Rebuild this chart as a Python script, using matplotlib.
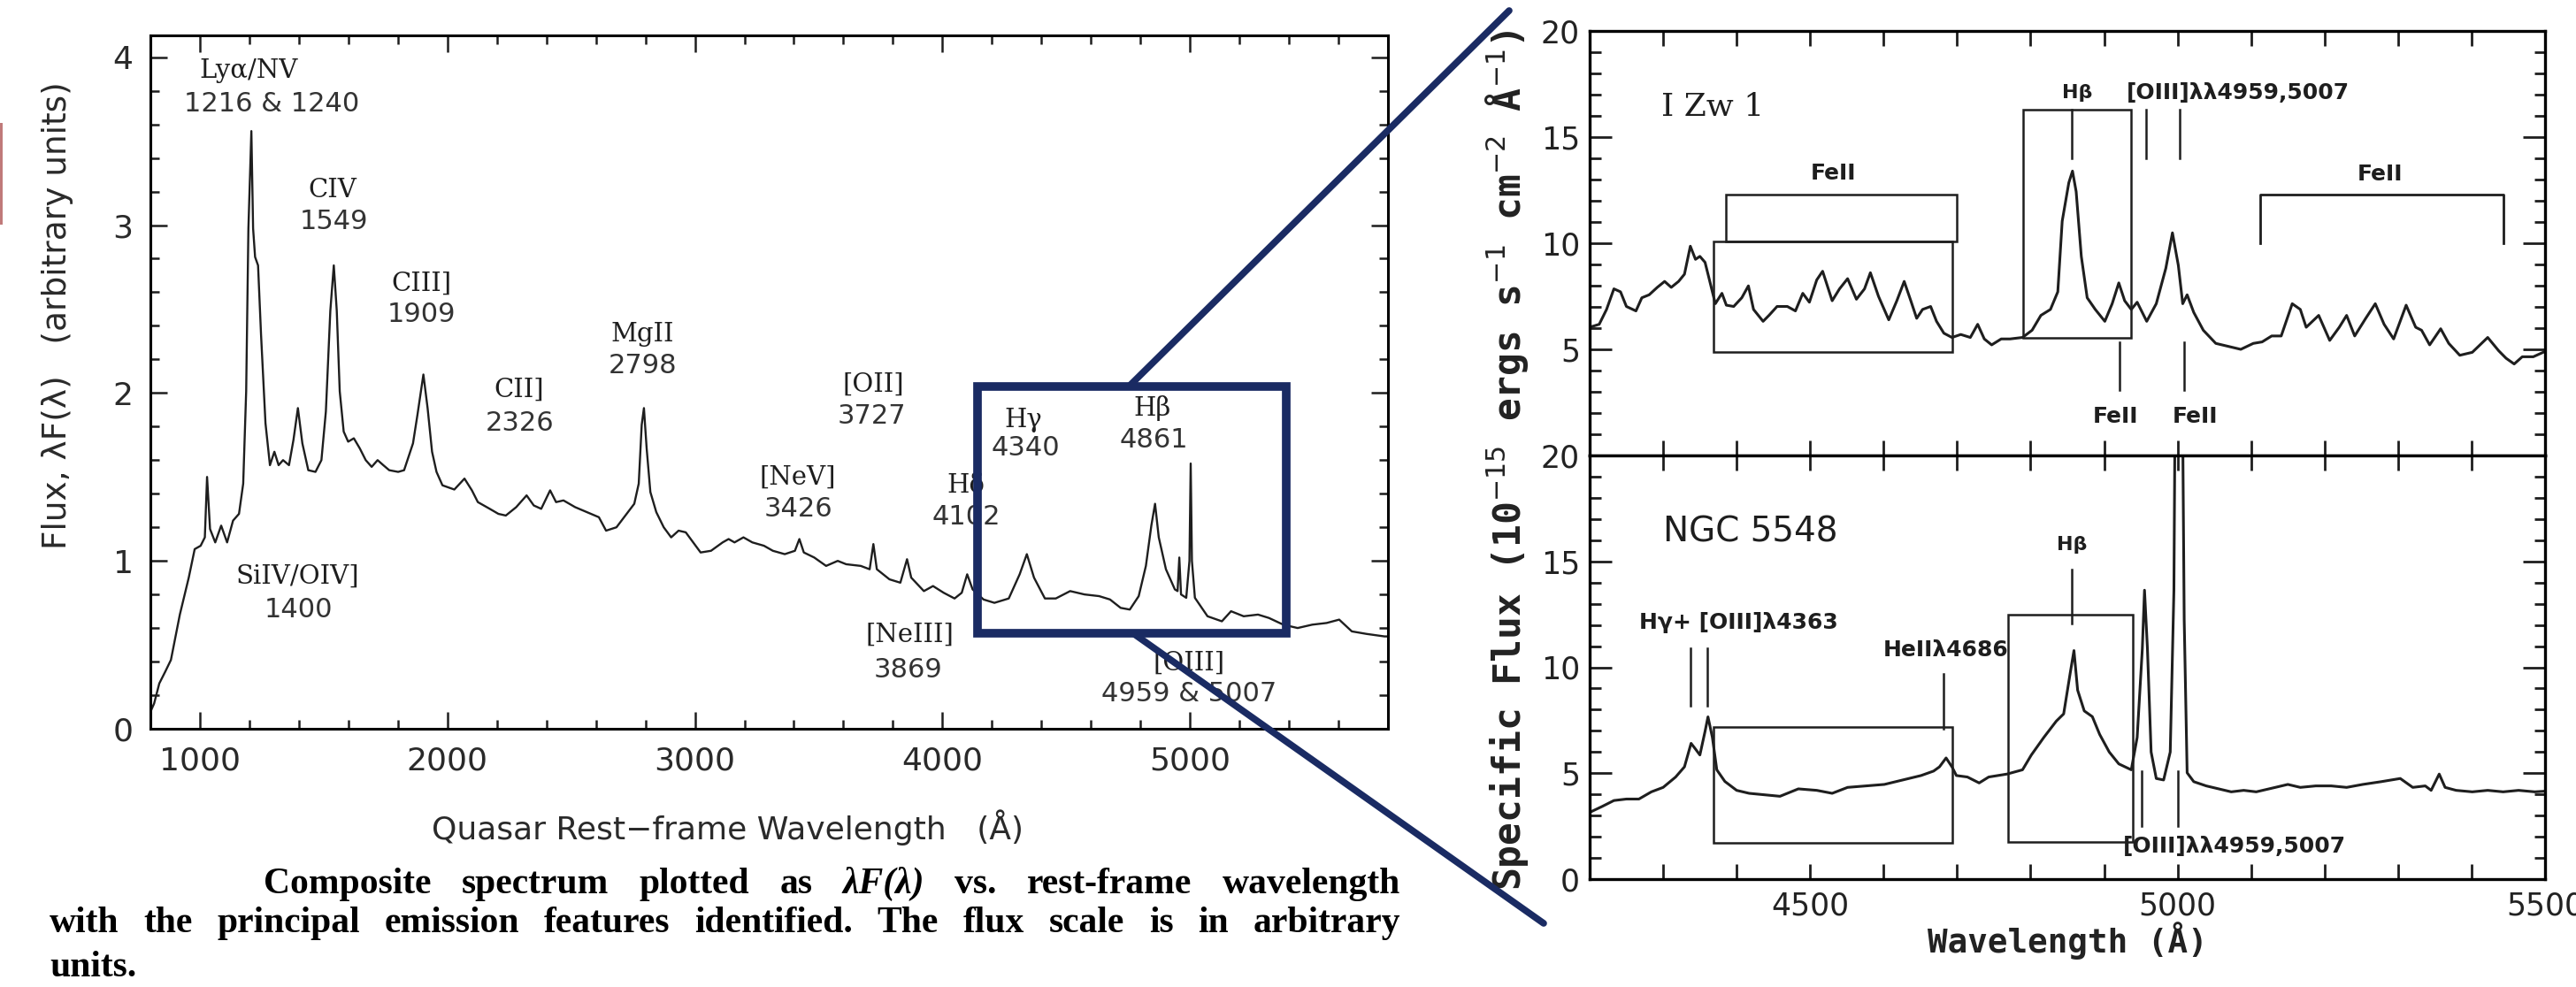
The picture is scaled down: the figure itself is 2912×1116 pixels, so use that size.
import matplotlib
matplotlib.use('Agg')
import matplotlib.pyplot as plt
from matplotlib.patches import Rectangle, ConnectionPatch
from matplotlib.ticker import MultipleLocator, FuncFormatter

# composite quasar spectrum (left panel)
qso_wave = [800, 815, 836, 860, 883, 919, 955, 979, 1003, 1020,
            1029, 1041, 1062, 1086, 1110, 1134, 1158, 1175, 1187, 1196,
            1208, 1215, 1223, 1235, 1247, 1265, 1283, 1301, 1318, 1336,
            1360, 1378, 1396, 1414, 1438, 1467, 1491, 1509, 1527, 1541,
            1553, 1565, 1581, 1599, 1622, 1646, 1670, 1694, 1718, 1741,
            1765, 1801, 1825, 1843, 1861, 1879, 1903, 1920, 1938, 1956,
            1980, 2028, 2069, 2099, 2123, 2171, 2206, 2236, 2278, 2320,
            2349, 2379, 2415, 2439, 2469, 2516, 2564, 2612, 2641, 2683,
            2719, 2755, 2773, 2785, 2794, 2805, 2820, 2844, 2874, 2904,
            2934, 2963, 2993, 3023, 3065, 3112, 3136, 3160, 3196, 3232,
            3279, 3315, 3363, 3404, 3422, 3440, 3482, 3530, 3577, 3611,
            3670, 3706, 3721, 3735, 3786, 3830, 3857, 3874, 3925, 3962,
            4005, 4049, 4078, 4100, 4122, 4166, 4210, 4268, 4312, 4341,
            4370, 4414, 4458, 4516, 4574, 4633, 4677, 4720, 4757, 4793,
            4822, 4844, 4859, 4874, 4903, 4939, 4950, 4957, 4964, 4985,
            4998, 5003, 5008, 5020, 5071, 5129, 5166, 5217, 5275, 5319,
            5377, 5435, 5494, 5552, 5603, 5654, 5713, 5786, 5800]
qso_flux = [0.10, 0.15, 0.27, 0.34, 0.41, 0.68, 0.90, 1.07, 1.09, 1.14,
            1.50, 1.19, 1.11, 1.21, 1.11, 1.24, 1.28, 1.46, 2.01, 2.98,
            3.56, 2.98, 2.81, 2.76, 2.35, 1.82, 1.57, 1.65, 1.57, 1.60,
            1.57, 1.72, 1.91, 1.70, 1.54, 1.53, 1.60, 1.89, 2.49, 2.76,
            2.49, 2.01, 1.77, 1.71, 1.73, 1.67, 1.60, 1.56, 1.60, 1.57,
            1.54, 1.53, 1.54, 1.62, 1.70, 1.87, 2.11, 1.91, 1.65, 1.53,
            1.45, 1.425, 1.49, 1.42, 1.35, 1.31, 1.28, 1.27, 1.32, 1.39,
            1.33, 1.31, 1.42, 1.35, 1.36, 1.32, 1.29, 1.26, 1.18, 1.20,
            1.27, 1.34, 1.46, 1.81, 1.91, 1.67, 1.41, 1.29, 1.20, 1.14,
            1.18, 1.17, 1.11, 1.05, 1.06, 1.11, 1.13, 1.11, 1.14, 1.11,
            1.09, 1.06, 1.04, 1.06, 1.13, 1.05, 1.02, 0.97, 1.00, 0.98,
            0.97, 0.95, 1.10, 0.95, 0.89, 0.87, 1.01, 0.90, 0.82, 0.85,
            0.81, 0.776, 0.81, 0.92, 0.83, 0.77, 0.75, 0.776, 0.92, 1.04,
            0.90, 0.776, 0.776, 0.82, 0.80, 0.79, 0.77, 0.72, 0.71, 0.79,
            0.97, 1.21, 1.34, 1.14, 0.95, 0.83, 0.82, 1.02, 0.80, 0.78,
            1.00, 1.58, 1.00, 0.78, 0.67, 0.64, 0.70, 0.67, 0.68, 0.66,
            0.62, 0.60, 0.62, 0.63, 0.65, 0.58, 0.565, 0.55, 0.55]

# I Zw 1 (upper right)
izw_wave = [4200, 4213, 4223, 4233, 4242, 4250, 4263, 4271, 4281, 4292,
            4302, 4311, 4321, 4329, 4337, 4344, 4350, 4357, 4363, 4371,
            4380, 4386, 4396, 4407, 4416, 4423, 4436, 4444, 4455, 4469,
            4480, 4490, 4499, 4509, 4517, 4530, 4540, 4551, 4563, 4574,
            4582, 4593, 4607, 4618, 4628, 4637, 4645, 4653, 4664, 4672,
            4682, 4693, 4705, 4718, 4728, 4737, 4747, 4760, 4772, 4789,
            4802, 4814, 4827, 4837, 4843, 4852, 4857, 4862, 4869, 4877,
            4888, 4901, 4911, 4920, 4928, 4937, 4945, 4958, 4971, 4984,
            4993, 5001, 5007, 5013, 5022, 5035, 5052, 5069, 5086, 5103,
            5115, 5128, 5141, 5156, 5167, 5175, 5192, 5207, 5220, 5230,
            5241, 5256, 5269, 5281, 5294, 5311, 5324, 5332, 5343, 5358,
            5369, 5384, 5401, 5422, 5437, 5447, 5458, 5469, 5484, 5500]
izw_flux = [6.04, 6.18, 6.88, 7.85, 7.71, 7.02, 6.81, 7.43, 7.57, 7.92,
            8.2, 7.92, 8.2, 8.54, 9.86, 9.24, 9.38, 9.1, 8.27, 7.15,
            7.64, 7.08, 7.02, 7.43, 7.99, 6.88, 6.32, 6.6, 7.02, 7.02,
            6.81, 7.64, 7.22, 8.27, 8.68, 7.29, 7.85, 8.33, 7.36, 7.85,
            8.61, 7.5, 6.39, 7.29, 8.2, 7.29, 6.46, 6.88, 7.02, 6.32,
            5.76, 5.56, 5.7, 5.56, 6.18, 5.49, 5.21, 5.49, 5.49, 5.56,
            5.9, 6.6, 6.88, 7.71, 11.04, 12.85, 13.4, 12.43, 9.38, 7.43,
            6.88, 6.32, 7.15, 8.13, 7.29, 6.88, 7.22, 6.32, 7.15, 8.82,
            10.49, 8.96, 7.15, 7.57, 6.74, 5.9, 5.28, 5.14, 5.0, 5.28,
            5.35, 5.63, 5.63, 7.15, 6.88, 6.04, 6.6, 5.42, 6.04, 6.6,
            5.63, 6.46, 7.15, 6.18, 5.49, 7.08, 6.04, 5.9, 5.21, 5.97,
            5.28, 4.72, 4.86, 5.56, 4.93, 4.58, 4.31, 4.65, 4.65, 4.9]

# NGC 5548 (lower right); [OIII]5007 runs off the top
ngc_wave = [4200, 4217, 4233, 4250, 4267, 4284, 4300, 4317, 4329, 4338,
            4344, 4350, 4357, 4361, 4367, 4373, 4384, 4400, 4417, 4438,
            4459, 4484, 4509, 4530, 4551, 4576, 4601, 4626, 4651, 4668,
            4676, 4685, 4693, 4699, 4714, 4730, 4743, 4768, 4789, 4801,
            4818, 4835, 4845, 4854, 4859, 4864, 4873, 4884, 4894, 4907,
            4920, 4937, 4945, 4952, 4955, 4959, 4964, 4971, 4981, 4990,
            4995, 4998, 5005, 5009, 5013, 5022, 5039, 5056, 5073, 5090,
            5107, 5133, 5150, 5167, 5188, 5209, 5230, 5252, 5277, 5303,
            5320, 5337, 5345, 5356, 5364, 5379, 5401, 5422, 5443, 5464,
            5486, 5500]
ngc_flux = [3.15, 3.43, 3.71, 3.78, 3.78, 4.12, 4.33, 4.82, 5.3, 6.41,
            6.14, 5.86, 6.97, 7.66, 6.69, 5.16, 4.61, 4.19, 4.05, 3.98,
            3.91, 4.26, 4.19, 4.05, 4.33, 4.4, 4.47, 4.68, 4.89, 5.1,
            5.3, 5.72, 5.3, 4.89, 4.82, 4.54, 4.82, 4.96, 5.16, 5.86,
            6.69, 7.46, 7.8, 9.75, 10.79, 8.92, 7.94, 7.67, 6.83, 6.0,
            5.44, 5.16, 6.69, 10.86, 13.64, 10.86, 6.0, 4.75, 4.68, 6.0,
            13.64, 30.0, 30.0, 12.25, 5.02, 4.6, 4.4, 4.26, 4.12, 4.19,
            4.12, 4.33, 4.47, 4.33, 4.4, 4.4, 4.33, 4.47, 4.6, 4.75,
            4.33, 4.4, 4.19, 4.96, 4.33, 4.19, 4.12, 4.19, 4.12, 4.19,
            4.12, 4.15]

# line identifications on the composite: (text, wavelength, flux)
ion_labels = [("Lyα/NV", 1197, 3.92), ("CIV", 1537, 3.21), ("CIII]", 1894, 2.65),
              ("CII]", 2291, 2.02), ("MgII", 2788, 2.35), ("[NeV]", 3417, 1.50),
              ("[OII]", 3721, 2.05), ("Hδ", 4095, 1.45), ("Hγ", 4325, 1.84),
              ("Hβ", 4847, 1.91), ("SiIV/OIV]", 1394, 0.91), ("[NeIII]", 3868, 0.56),
              ("[OIII]", 4997, 0.39)]
wave_labels = [("1216 & 1240", 1290, 3.72), ("1549", 1540, 3.02), ("1909", 1894, 2.47),
               ("2326", 2291, 1.82), ("2798", 2790, 2.16), ("3426", 3417, 1.31),
               ("3727", 3714, 1.86), ("4102", 4095, 1.26), ("4340", 4336, 1.67),
               ("4861", 4854, 1.72), ("1400", 1400, 0.71), ("3869", 3861, 0.35),
               ("4959 & 5007", 4997, 0.21)]

caption_1 = "Composite spectrum plotted as λF(λ) vs. rest-frame wavelength"
caption_2 = "with the principal emission features identified. The flux scale is in arbitrary"
caption_3 = "units."

W, H = 2912, 1116
ink = '#1e1e1e'
navy = '#1a2b63'

fig = plt.figure(figsize=(W / 100, H / 100), dpi=100)
renderer = fig.canvas.get_renderer()


def px_axes(x0, y0, x1, y1):
    return fig.add_axes([x0 / W, 1 - y1 / H, (x1 - x0) / W, (y1 - y0) / H])


def justify(text, x0, x1, y, size, weight):
    arts = []
    for w in text.split():
        style = 'italic' if 'λ' in w else 'normal'
        arts.append(fig.text(0, 1 - y / H, w, fontsize=size, family='Liberation Serif',
                             style=style, weight=weight, va='baseline', color='black'))
    widths = [t.get_window_extent(renderer).width for t in arts]
    gap = (x1 - x0 - sum(widths)) / (len(arts) - 1)
    x = x0
    for t, w in zip(arts, widths):
        t.set_x(x / W)
        x += w + gap


# ---- left panel: composite spectrum ----
ax = px_axes(170, 40, 1569, 824)
ax.plot(qso_wave, qso_flux, color=ink, lw=1.7)
ax.set_xlim(800, 5800)
ax.set_ylim(0, 4.13)
ax.xaxis.set_major_locator(MultipleLocator(1000))
ax.xaxis.set_minor_locator(MultipleLocator(200))
ax.yaxis.set_major_locator(MultipleLocator(1))
ax.yaxis.set_minor_locator(MultipleLocator(0.2))
ax.tick_params(which='both', direction='in', top=True, right=True, width=1.8, color=ink,
               labelsize=26, labelcolor='#2a2a2a', pad=14)
ax.tick_params(which='major', length=14)
ax.tick_params(which='minor', length=7)
for s in ax.spines.values():
    s.set_linewidth(2.2)
ax.set_xlabel('Quasar Rest−frame Wavelength   (Å)', fontsize=26, color='#2a2a2a')
ax.set_ylabel('Flux, λF(λ)   (arbitrary units)', fontsize=27, color='#2a2a2a')
ax.xaxis.set_label_coords((822 - 170) / 1399, -(936 - 824) / 784)
ax.yaxis.set_label_coords((65 - 170) / 1399, (824 - 357) / 784)
ax.xaxis.label.set_va('center')
ax.yaxis.label.set_va('center')

for txt, x, y in ion_labels:
    ax.text(x, y, txt, fontsize=21, family='DejaVu Serif', ha='center', va='center', color=ink)
for txt, x, y in wave_labels:
    ax.text(x, y, txt, fontsize=22, ha='center', va='center', color='#333333')

ax.add_patch(Rectangle((4140, 0.57), 1250, 1.47, fill=False, ec=navy, lw=7,
                       zorder=6, clip_on=False))

# ---- right panels ----
axu = px_axes(1797, 35, 2877, 515)
axl = px_axes(1797, 515, 2877, 994)
for a in (axu, axl):
    a.set_xlim(4200, 5500)
    a.set_ylim(0, 20)
    a.xaxis.set_major_locator(MultipleLocator(100))
    a.xaxis.set_major_formatter(FuncFormatter(lambda v, p: f'{v:.0f}' if v % 500 == 0 else ''))
    a.yaxis.set_minor_locator(MultipleLocator(1))
    a.tick_params(which='both', direction='in', top=True, right=True, width=2, color=ink,
                  labelsize=25, labelcolor='#222222')
    a.tick_params(axis='y', which='major', length=18, pad=8)
    a.tick_params(axis='y', which='minor', length=9)
    a.tick_params(axis='x', which='major', length=12, pad=10)
    for s in a.spines.values():
        s.set_linewidth(2.4)
axu.set_yticks([5, 10, 15, 20])
axl.set_yticks([0, 5, 10, 15, 20])
axu.tick_params(labelbottom=False)

axu.plot(izw_wave, izw_flux, color=ink, lw=2.2)
axl.plot(ngc_wave, ngc_flux, color=ink, lw=2.2)

box = dict(fill=False, ec=ink, lw=1.8)
small = dict(fontsize=18, fontweight='bold', color=ink)

# I Zw 1 annotations
axu.text(4297, 16.4, 'I Zw 1', fontsize=26, family='DejaVu Serif', va='center', color=ink)
axu.add_patch(Rectangle((4385, 10.1), 314, 2.2, **box))
axu.add_patch(Rectangle((4369, 4.88), 324, 5.22, **box))
axu.add_patch(Rectangle((4790, 5.54), 147, 10.76, **box))
axu.plot([5113, 5113, 5443, 5443], [10.0, 12.3, 12.3, 10.0], color=ink, lw=2)
for x in (4856, 4957, 5003):
    axu.plot([x, x], [16.3, 14.0], color=ink, lw=1.8)
for x in (4921, 5009):
    axu.plot([x, x], [5.33, 3.08], color=ink, lw=1.8)
axu.text(4532, 13.3, 'FeII', ha='center', va='center', **small)
axu.text(5275, 13.25, 'FeII', ha='center', va='center', **small)
axu.text(4916, 1.83, 'FeII', ha='center', va='center', **small)
axu.text(5024, 1.83, 'FeII', ha='center', va='center', **small)
axu.text(4863, 17.1, 'Hβ', ha='center', va='center', fontsize=16, fontweight='bold', color=ink)
axu.text(4931, 17.1, '[OIII]λλ4959,5007', ha='left', va='center', **small)

# NGC 5548 annotations
axl.text(4300, 16.4, 'NGC 5548', fontsize=28, va='center', color=ink)
axl.add_patch(Rectangle((4369, 1.7), 324, 5.47, **box))
axl.add_patch(Rectangle((4769, 1.75), 170, 10.75, **box))
for x in (4337, 4360):
    axl.plot([x, x], [10.9, 8.2], color=ink, lw=1.8)
axl.plot([4681, 4681], [9.7, 7.1], color=ink, lw=1.8)
axl.plot([4856, 4856], [14.6, 12.05], color=ink, lw=1.8)
for x in (4951, 5001):
    axl.plot([x, x], [5.1, 2.5], color=ink, lw=1.8)
axl.text(4268, 12.1, 'Hγ+ [OIII]λ4363', ha='left', va='center', **small)
axl.text(4599, 10.8, 'HeIIλ4686', ha='left', va='center', **small)
axl.text(4856, 15.8, 'Hβ', ha='center', va='center', fontsize=16, fontweight='bold', color=ink)
axl.text(4926, 1.55, '[OIII]λλ4959,5007', ha='left', va='center', **small)

fig.text(1703 / W, 1 - 520 / H, r'Specific Flux (10$^{-15}$ ergs s$^{-1}$ cm$^{-2}$ Å$^{-1}$)',
         rotation=90, ha='center', va='center', fontsize=31, family='DejaVu Sans Mono',
         fontweight='bold', color='#222222')
fig.text(2337 / W, 1 - 1064 / H, 'Wavelength (Å)', ha='center', va='center', fontsize=27,
         family='DejaVu Sans Mono', fontweight='bold', color='#222222')

# zoom connectors
for xa, ya, xb, yb in [(4754, 2.04, 1706, 12), (4769, 0.57, 1745, 1044)]:
    fig.add_artist(ConnectionPatch(xyA=(xa, ya), coordsA=ax.transData,
                                   xyB=(xb / W, 1 - yb / H), coordsB=fig.transFigure,
                                   color=navy, lw=5.5, zorder=7))

# little red mark at the left edge
fig.add_artist(Rectangle((0, 1 - 254 / H), 3 / W, 115 / H, transform=fig.transFigure,
                         color='#c07a7a', lw=0))

# caption: pick a size so the full line nearly fills the column, then justify
probe = fig.text(0, 0, caption_2, fontsize=26, family='Liberation Serif', weight='bold')
cap_size = min(30, 26 * 0.96 * (1583 - 56) / probe.get_window_extent(renderer).width)
probe.remove()
justify(caption_1, 298, 1583, 1010, cap_size, 'bold')
justify(caption_2, 56, 1583, 1054, cap_size, 'bold')
fig.text(56 / W, 1 - 1104 / H, caption_3, fontsize=cap_size, family='Liberation Serif',
         weight='bold', va='baseline', color='black')

fig.savefig('out.png', dpi=100)
